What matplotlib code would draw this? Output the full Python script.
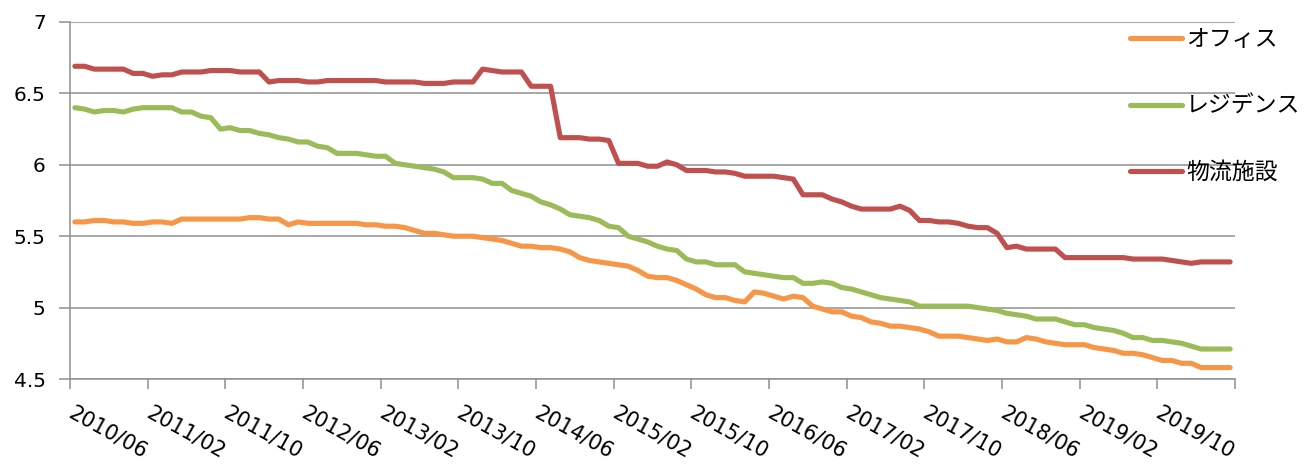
import matplotlib
matplotlib.use('Agg')
import matplotlib.pyplot as plt
import matplotlib.transforms as mtransforms
import numpy as np
import pandas as pd

# ---- data -------------------------------------------------------------
months = pd.period_range('2010-06', periods=120, freq='M')
month_labels = [m.strftime('%Y/%m') for m in months]

series_names = ['オフィス', 'レジデンス', '物流施設']

office = [5.60, 5.60, 5.61, 5.61, 5.60, 5.60, 5.59, 5.59, 5.60, 5.60, 5.59, 5.62,
          5.62, 5.62, 5.62, 5.62, 5.62, 5.62, 5.63, 5.63, 5.62, 5.62, 5.58, 5.60,
          5.59, 5.59, 5.59, 5.59, 5.59, 5.59, 5.58, 5.58, 5.57, 5.57, 5.56, 5.54,
          5.52, 5.52, 5.51, 5.50, 5.50, 5.50, 5.49, 5.48, 5.47, 5.45, 5.43, 5.43,
          5.42, 5.42, 5.41, 5.39, 5.35, 5.33, 5.32, 5.31, 5.30, 5.29, 5.26, 5.22,
          5.21, 5.21, 5.19, 5.16, 5.13, 5.09, 5.07, 5.07, 5.05, 5.04, 5.11, 5.10,
          5.08, 5.06, 5.08, 5.07, 5.01, 4.99, 4.97, 4.97, 4.94, 4.93, 4.90, 4.89,
          4.87, 4.87, 4.86, 4.85, 4.83, 4.80, 4.80, 4.80, 4.79, 4.78, 4.77, 4.78,
          4.76, 4.76, 4.79, 4.78, 4.76, 4.75, 4.74, 4.74, 4.74, 4.72, 4.71, 4.70,
          4.68, 4.68, 4.67, 4.65, 4.63, 4.63, 4.61, 4.61, 4.58, 4.58, 4.58, 4.58]

residence = [6.40, 6.39, 6.37, 6.38, 6.38, 6.37, 6.39, 6.40, 6.40, 6.40, 6.40, 6.37,
             6.37, 6.34, 6.33, 6.25, 6.26, 6.24, 6.24, 6.22, 6.21, 6.19, 6.18, 6.16,
             6.16, 6.13, 6.12, 6.08, 6.08, 6.08, 6.07, 6.06, 6.06, 6.01, 6.00, 5.99,
             5.98, 5.97, 5.95, 5.91, 5.91, 5.91, 5.90, 5.87, 5.87, 5.82, 5.80, 5.78,
             5.74, 5.72, 5.69, 5.65, 5.64, 5.63, 5.61, 5.57, 5.56, 5.50, 5.48, 5.46,
             5.43, 5.41, 5.40, 5.34, 5.32, 5.32, 5.30, 5.30, 5.30, 5.25, 5.24, 5.23,
             5.22, 5.21, 5.21, 5.17, 5.17, 5.18, 5.17, 5.14, 5.13, 5.11, 5.09, 5.07,
             5.06, 5.05, 5.04, 5.01, 5.01, 5.01, 5.01, 5.01, 5.01, 5.00, 4.99, 4.98,
             4.96, 4.95, 4.94, 4.92, 4.92, 4.92, 4.90, 4.88, 4.88, 4.86, 4.85, 4.84,
             4.82, 4.79, 4.79, 4.77, 4.77, 4.76, 4.75, 4.73, 4.71, 4.71, 4.71, 4.71]

logistics = [6.69, 6.69, 6.67, 6.67, 6.67, 6.67, 6.64, 6.64, 6.62, 6.63, 6.63, 6.65,
             6.65, 6.65, 6.66, 6.66, 6.66, 6.65, 6.65, 6.65, 6.58, 6.59, 6.59, 6.59,
             6.58, 6.58, 6.59, 6.59, 6.59, 6.59, 6.59, 6.59, 6.58, 6.58, 6.58, 6.58,
             6.57, 6.57, 6.57, 6.58, 6.58, 6.58, 6.67, 6.66, 6.65, 6.65, 6.65, 6.55,
             6.55, 6.55, 6.19, 6.19, 6.19, 6.18, 6.18, 6.17, 6.01, 6.01, 6.01, 5.99,
             5.99, 6.02, 6.00, 5.96, 5.96, 5.96, 5.95, 5.95, 5.94, 5.92, 5.92, 5.92,
             5.92, 5.91, 5.90, 5.79, 5.79, 5.79, 5.76, 5.74, 5.71, 5.69, 5.69, 5.69,
             5.69, 5.71, 5.68, 5.61, 5.61, 5.60, 5.60, 5.59, 5.57, 5.56, 5.56, 5.52,
             5.42, 5.43, 5.41, 5.41, 5.41, 5.41, 5.35, 5.35, 5.35, 5.35, 5.35, 5.35,
             5.35, 5.34, 5.34, 5.34, 5.34, 5.33, 5.32, 5.31, 5.32, 5.32, 5.32, 5.32]

y_ticks = [4.5, 5, 5.5, 6, 6.5, 7]
y_tick_labels = ['4.5', '5', '5.5', '6', '6.5', '7']
label_every = 8

colors = ['#F79646', '#9BBB59', '#C0504D']

# ---- figure -----------------------------------------------------------
W, H = 1307, 465
fig = plt.figure(figsize=(W / 100, H / 100), dpi=100)
ax = fig.add_axes([70 / W, 1 - 379 / H, 1165 / W, 357 / H])

x = np.arange(len(months)) + 0.5
for vals, name, c in zip([office, residence, logistics], series_names, colors):
    ax.plot(x, vals, color=c, lw=3.7, label=name,
            solid_joinstyle='round', solid_capstyle='round', zorder=3)

ax.set_xlim(0, len(months))
ax.set_ylim(y_ticks[0], y_ticks[-1])

grey = '#8f8f8f'
ax.tick_params(axis='y', length=8, width=1.1, color=grey, pad=9.5)
ax.tick_params(axis='x', length=7, width=1.1, color=grey, pad=10)
ax.set_yticks(y_ticks)
ax.set_yticklabels(y_tick_labels, fontsize=14.5, family='DejaVu Sans')
xt = list(range(0, len(months) + 1, label_every))
ax.set_xticks(xt)
ax.set_xticklabels([month_labels[i] if i < len(months) else '' for i in xt],
                   fontsize=15, family='DejaVu Sans',
                   rotation=-29, ha='left', va='top', rotation_mode='anchor')
shift = mtransforms.ScaledTranslation(0.05, 0, fig.dpi_scale_trans)
for lbl in ax.get_xticklabels():
    lbl.set_transform(lbl.get_transform() + shift)
ax.yaxis.grid(True, color=grey, lw=1.1, zorder=1)
ax.set_axisbelow(True)
for s in ['top', 'right']:
    ax.spines[s].set_visible(False)
for s in ['left', 'bottom']:
    ax.spines[s].set_color(grey)
    ax.spines[s].set_linewidth(1.1)

fig.legend(loc='upper left', bbox_to_anchor=(1130 / W, 1 - 28 / H),
           frameon=False, borderpad=0, borderaxespad=0,
           handlelength=2.25, handletextpad=0.2, labelspacing=1.9,
           prop={'family': ['Noto Sans CJK JP', 'DejaVu Sans'], 'size': 16.5})

fig.savefig('out.png', dpi=100)
